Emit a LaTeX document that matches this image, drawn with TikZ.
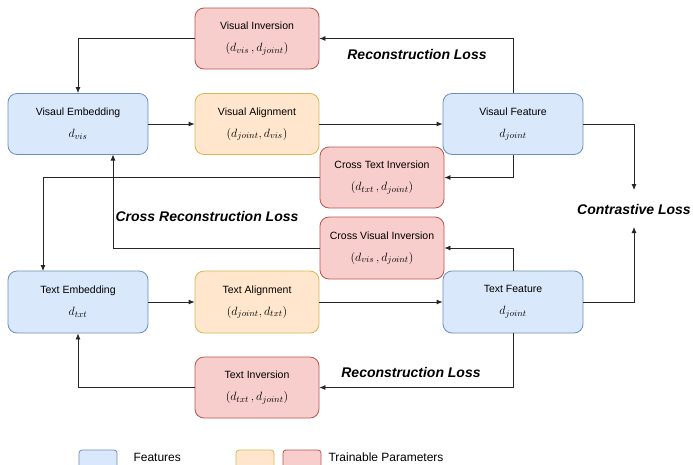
\documentclass[tikz,border=0pt]{standalone}
\usepackage{fontspec}
\setmainfont{Liberation Sans}
\usetikzlibrary{arrows.meta}
\definecolor{bfill}{HTML}{DAE8FC}\definecolor{bdraw}{HTML}{6C8EBF}
\definecolor{ofill}{HTML}{FFE6CC}\definecolor{odraw}{HTML}{D6B656}
\definecolor{rfill}{HTML}{F8CECC}\definecolor{rdraw}{HTML}{B85450}
\tikzset{
  box/.style={draw, rounded corners=9pt, line width=0.8pt, align=center,
    font=\fontsize{10.5}{13}\selectfont, inner sep=0pt},
  feat/.style={box, fill=bfill, draw=bdraw, minimum width=140pt, minimum height=61pt},
  align box/.style={box, fill=ofill, draw=odraw, minimum width=124pt, minimum height=61pt},
  inv/.style={box, fill=rfill, draw=rdraw, minimum width=124pt, minimum height=61pt},
  conn/.style={draw=black!85, line width=0.8pt, -{Latex[length=6pt,width=5pt]}},
  loss/.style={font=\fontsize{14}{16}\selectfont\bfseries\itshape},
  legbox/.style={draw, rounded corners=3pt, line width=0.8pt, minimum width=38pt, minimum height=22pt, inner sep=0pt}
}
\newcommand{\mth}[1]{{\fontsize{12.5}{13}\selectfont$#1$}}
\begin{document}
\begin{tikzpicture}[x=1pt,y=-1pt]
\useasboundingbox (0,0) rectangle (693,464);
\node[inv] (vinv) at (257,38.5) {Visual Inversion\\[9pt]\mth{(d_{vis}\,,d_{joint})}};
\node[feat] (vemb) at (78,124) {Visaul Embedding\\[9pt]\mth{d_{vis}}};
\node[align box] (valign) at (257,124) {Visual Alignment\\[9pt]\mth{(d_{joint},d_{vis})}};
\node[feat] (vfeat) at (513,124) {Visaul Feature\\[9pt]\mth{d_{joint}}};
\node[inv] (ctinv) at (382,177.5) {Cross Text Inversion\\[9pt]\mth{(d_{txt}\,,d_{joint})}};
\node[inv, minimum height=62pt] (cvinv) at (382,248) {Cross Visual Inversion\\[9pt]\mth{(d_{vis}\,,d_{joint})}};
\node[feat, minimum height=62pt] (temb) at (78,302) {Text Embedding\\[9pt]\mth{d_{txt}}};
\node[align box, minimum height=62pt] (talign) at (257,302) {Text Alignment\\[9pt]\mth{(d_{joint},d_{txt})}};
\node[feat, minimum height=62pt] (tfeat) at (513,302) {Text Feature\\[9pt]\mth{d_{joint}}};
\node[inv] (tinv) at (257,387.5) {Text Inversion\\[9pt]\mth{(d_{txt}\,,d_{joint})}};

\node[loss] (rl1) at (417,54) {Reconstruction Loss};
\node[loss] (crl) at (207,216) {Cross Reconstruction Loss};
\node[loss] (rl2) at (411,372) {Reconstruction Loss};
\node[loss] (cl) at (634,209) {Contrastive Loss};
\coordinate (clt) at (634,190);
\coordinate (clb) at (634,227);
\coordinate (tembn) at (43,271);
\coordinate (vembs) at (113,154.5);

\draw[conn] (vfeat.north) |- (vinv.east);
\draw[conn] (vinv.west) -| (vemb.north);
\draw[conn] (vemb) -- (valign);
\draw[conn] (valign) -- (vfeat);
\draw[conn] (vfeat.south) |- (ctinv.east);
\draw[conn] (ctinv.west) -| (tembn);
\draw[conn] (tfeat.north) |- (cvinv.east);
\draw[conn] (cvinv.west) -| (vembs);
\draw[conn] (temb) -- (talign);
\draw[conn] (talign) -- (tfeat);
\draw[conn] (tfeat.south) |- (tinv.east);
\draw[conn] (tinv.west) -| (temb.south);
\draw[conn] (vfeat.east) -| (clt);
\draw[conn] (tfeat.east) -| (clb);

\node[legbox, fill=bfill, draw=bdraw] (lb) at (98,461) {};
\node[anchor=west, font=\fontsize{12}{14}\selectfont] (lbt) at (130,457) {Features};
\node[legbox, fill=ofill, draw=odraw] (lo) at (255,461) {};
\node[legbox, fill=rfill, draw=rdraw] (lr) at (302,461) {};
\node[anchor=west, font=\fontsize{12}{14}\selectfont] (lrt) at (325,457) {Trainable Parameters};
\end{tikzpicture}
\end{document}
